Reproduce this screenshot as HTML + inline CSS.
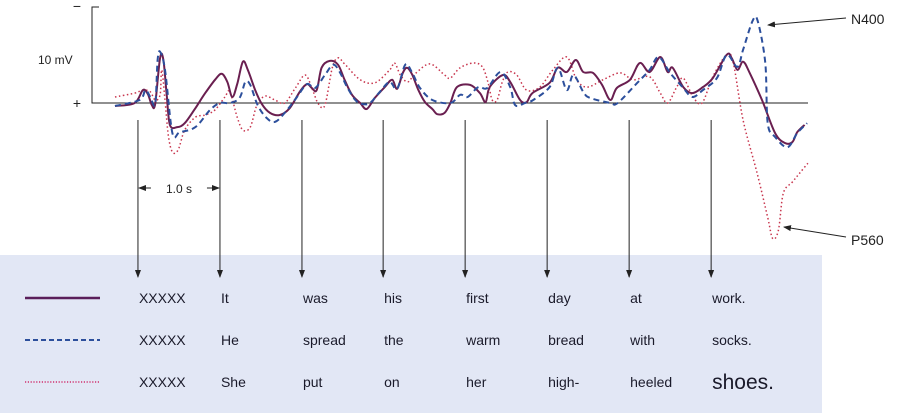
<!DOCTYPE html>
<html><head><meta charset="utf-8"><style>
html,body{margin:0;padding:0;background:#fff;}
svg{display:block;font-family:"Liberation Sans",sans-serif;}
</style></head><body>
<svg id="chart" width="905" height="414" viewBox="0 0 905 414" xmlns="http://www.w3.org/2000/svg">
<defs>
<marker id="ah" markerWidth="8" markerHeight="8" refX="7" refY="4" orient="auto" markerUnits="userSpaceOnUse"><path d="M0,1 L8,4 L0,7 Z" fill="#222"/></marker>
</defs>
<rect x="0" y="255" width="822" height="158" fill="#e2e7f5"/>
<g id="axes"></g>
<g id="series"></g>
<g id="words"></g>
</svg>
<script>
// Time (s from start) and amplitude (mV, negative-up convention) per condition
const solidT = [0,0.24,0.34,0.40,0.45,0.49,0.55,0.59,0.63,0.67,0.76,0.85,0.98,1.10,1.22,1.30,1.37,1.43,1.49,1.56,1.62,1.71,1.79,1.89,2.01,2.13,2.26,2.34,2.40,2.46,2.52,2.62,2.72,2.80,2.89,2.99,3.07,3.17,3.29,3.38,3.44,3.51,3.56,3.62,3.70,3.78,3.87,3.93,4.02,4.09,4.17,4.33,4.45,4.52,4.57,4.73,4.82,4.94,5.02,5.09,5.30,5.40,5.51,5.62,5.71,5.83,5.94,6.04,6.12,6.28,6.40,6.52,6.65,6.74,6.80,6.93,7.04,7.17,7.29,7.46,7.52,7.59,7.66,7.74,7.89,8.05,8.17,8.26,8.32,8.41];
const solidV = [-0.7,0,3.0,2.1,-0.5,-0.2,10.5,10.0,1.9,-5.1,-5.6,-4.7,-1.2,2.3,5.4,6.8,4.9,1.4,4.4,9.6,7.7,3.0,-0.2,-2.3,-2.8,-1.2,2.8,4.4,3.5,3.0,8.2,9.8,8.9,5.4,1.9,0,-1.4,1.2,3.7,5.4,3.3,7.0,8.2,6.8,3.0,0.2,-1.4,-2.6,-2.3,0,3.7,4.2,2.3,0.2,3.7,6.5,4.9,0.7,0.2,2.3,4.7,8.2,7.2,10.0,7.2,7.0,4.2,0.7,3.5,5.4,9.3,7.2,10.7,7.2,8.2,3.7,2.3,3.7,5.8,11.2,10.5,7.7,9.6,7.0,0.7,-7.0,-9.3,-9.1,-6.8,-5.1];
const dashT = [0,0.30,0.37,0.43,0.49,0.52,0.55,0.61,0.70,0.79,0.98,1.16,1.28,1.40,1.52,1.59,1.65,1.74,1.85,1.95,2.07,2.22,2.34,2.44,2.56,2.66,2.74,2.83,2.93,3.01,3.11,3.23,3.35,3.44,3.54,3.62,3.72,3.87,4.09,4.21,4.30,4.43,4.54,4.70,4.82,4.88,5.00,5.10,5.30,5.40,5.51,5.59,5.71,5.79,6.04,6.13,6.37,6.52,6.63,6.77,6.93,7.04,7.17,7.34,7.46,7.59,7.66,7.78,7.84,7.93,7.96,8.05,8.20,8.32,8.44];
const dashV = [-0.7,0.7,3.0,1.4,-0.2,10.0,11.9,7.7,-7.0,-6.8,-5.6,-1.6,0,0,1.2,4.9,4.2,-0.5,-3.5,-4.4,-2.3,1.4,4.4,3.5,6.5,8.9,7.2,3.7,0.7,-0.2,0,2.6,4.9,3.3,8.9,7.2,3.5,0.7,0,1.9,1.4,3.7,3.5,7.2,3.7,-0.5,0,0.7,3.7,8.2,3.0,6.5,2.6,1.2,0,0,4.7,7.7,10.7,7.0,3.5,1.4,3.0,5.8,11.2,8.4,12.4,19.3,18.9,9.3,-4.7,-7.9,-10.3,-7.0,-4.7];
const dotT = [0,0.24,0.34,0.43,0.49,0.55,0.57,0.61,0.65,0.70,0.77,0.85,0.98,1.10,1.22,1.34,1.40,1.49,1.56,1.65,1.73,1.83,1.95,2.07,2.20,2.32,2.41,2.48,2.56,2.65,2.72,2.80,2.99,3.17,3.35,3.41,3.48,3.57,3.66,3.84,4.02,4.09,4.21,4.37,4.48,4.55,4.60,4.66,4.72,4.79,4.90,5.02,5.18,5.34,5.51,5.63,5.76,5.95,6.16,6.32,6.52,6.65,6.74,6.85,6.93,7.05,7.16,7.29,7.46,7.54,7.66,7.83,7.96,8.02,8.09,8.15,8.26,8.35,8.45];
const dotV = [1.4,2.3,3.0,2.6,0.7,1.9,7.7,0.7,-7.5,-11.4,-10.9,-6.3,-3.3,-2.8,-1.6,1.4,2.6,-3.3,-6.3,-5.6,-0.5,1.6,0.7,0,3.5,6.5,3.0,-0.2,-0.5,8.2,10.5,9.1,5.4,4.7,7.7,9.3,6.5,4.9,6.8,9.1,6.5,5.8,8.2,9.3,8.4,4.7,0.7,0.7,4.7,7.2,6.5,3.0,3.7,7.7,10.7,5.4,3.7,5.4,7.0,5.4,6.1,2.3,0,3.7,5.8,1.4,0,6.1,11.2,9.3,-4.0,-16.3,-26.6,-31.5,-29.6,-21.0,-18.4,-16.3,-14.0];
const onsetTimes = [0.28,1.28,2.28,3.27,4.27,5.27,6.27,7.27];
const row1 = ["XXXXX","It","was","his","first","day","at","work."];
const row2 = ["XXXXX","He","spread","the","warm","bread","with","socks."];
const row3 = ["XXXXX","She","put","on","her","high-","heeled","shoes."];

const NS="http://www.w3.org/2000/svg";
const X0=115, PXS=82, Y0=103, PXMV=4.3;
const xs=t=>X0+t*PXS;
const ys=v=>Y0-v*PXMV;
function mk(tag,attrs,parent){const e=document.createElementNS(NS,tag);for(const k in attrs)e.setAttribute(k,attrs[k]);parent.appendChild(e);return e;}
const axes=document.getElementById('axes'), series=document.getElementById('series'), words=document.getElementById('words');

let a=mk('path',{d:'M99,7 L92,7 L92,103 L808,103',fill:'none',stroke:'#222','stroke-width':1},axes);


[["−",77,11,14,"minus-label"],["10 mV",38,64,12,"y-scale-label"],["+",77,108,14,"plus-label"]].forEach(d=>{
  const t=mk('text',{x:d[1],y:d[2],'font-size':d[3],fill:'#222','text-anchor':'middle'},axes);
  if(d[4]==="y-scale-label") t.setAttribute('text-anchor','start');
  t.textContent=d[0];
  
  
});

onsetTimes.forEach((t,i)=>{
  const l=mk('line',{x1:xs(t),y1:120,x2:xs(t),y2:277,stroke:'#222','stroke-width':1,'marker-end':'url(#ah)'},axes);
  
  
});
// 1.0 s scale
const s1=xs(onsetTimes[0]), s2=xs(onsetTimes[1]);
let sa=mk('line',{x1:s1+13,y1:188,x2:s1+1,y2:188,stroke:'#222','stroke-width':1,'marker-end':'url(#ah)'},axes);


sa=mk('line',{x1:s2-13,y1:188,x2:s2-1,y2:188,stroke:'#222','stroke-width':1,'marker-end':'url(#ah)'},axes);


let st=mk('text',{x:(s1+s2)/2,y:193,'font-size':12,fill:'#222','text-anchor':'middle'},axes);
st.textContent='1.0 s';



function smooth(T,V){
  const p=T.map((t,i)=>[xs(t),ys(V[i])]);
  let d='M'+p[0][0].toFixed(1)+','+p[0][1].toFixed(1);
  for(let i=0;i<p.length-1;i++){
    const p0=p[Math.max(0,i-1)],p1=p[i],p2=p[i+1],p3=p[Math.min(p.length-1,i+2)];
    const c1=[p1[0]+(p2[0]-p0[0])/6,p1[1]+(p2[1]-p0[1])/6];
    const c2=[p2[0]-(p3[0]-p1[0])/6,p2[1]-(p3[1]-p1[1])/6];
    d+=' C'+c1.map(v=>v.toFixed(1))+' '+c2.map(v=>v.toFixed(1))+' '+p2.map(v=>v.toFixed(1));
  }
  return d;
}
let s=mk('path',{d:smooth(dotT,dotV),fill:'none',stroke:'#c8364e','stroke-width':1.5,'stroke-dasharray':'1.5 2.5'},series);


s=mk('path',{d:smooth(solidT,solidV),fill:'none',stroke:'#6a1f50','stroke-width':2},series);


s=mk('path',{d:smooth(dashT,dashV),fill:'none',stroke:'#2c4f9c','stroke-width':2,'stroke-dasharray':'6 4'},series);



// component annotations
let n=mk('line',{x1:846,y1:18,x2:768,y2:25,stroke:'#222','stroke-width':1,'marker-end':'url(#ah)'},axes);


let nt=mk('text',{x:851,y:24,'font-size':14,fill:'#222'},axes);
nt.textContent='N400';


n=mk('line',{x1:846,y1:237,x2:784,y2:227,stroke:'#222','stroke-width':1,'marker-end':'url(#ah)'},axes);


nt=mk('text',{x:851,y:245,'font-size':14,fill:'#222'},axes);
nt.textContent='P560';



// legend lines
const legY=[298,340,382];
let lg=mk('line',{x1:25,y1:legY[0],x2:100,y2:legY[0],stroke:'#5a1f5a','stroke-width':2.5},words);


lg=mk('line',{x1:25,y1:legY[1],x2:100,y2:legY[1],stroke:'#2c4f9c','stroke-width':2,'stroke-dasharray':'5 3'},words);


lg=mk('line',{x1:25,y1:legY[2],x2:100,y2:legY[2],stroke:'#d0306e','stroke-width':1.5,'stroke-dasharray':'1.2 1.6'},words);



[row1,row2,row3].forEach((row,r)=>{
  row.forEach((w,i)=>{
    const big=(r===2&&i===7);
    const t=mk('text',{x:xs(onsetTimes[i])+1,y:legY[r]+(big?7:5),'font-size':big?21:14,fill:'#1a1a2a'},words);
    t.textContent=w;
    
    
  });
});
</script>
</body></html>
